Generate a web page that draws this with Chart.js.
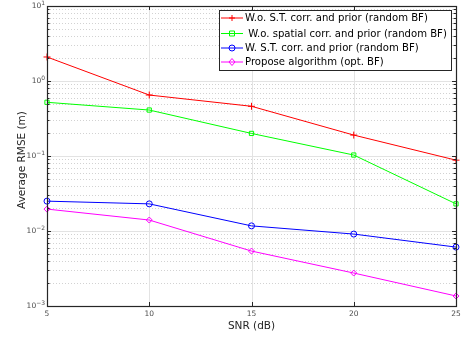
<!DOCTYPE html>
<html><head><meta charset="utf-8">
<script src="https://cdn.jsdelivr.net/npm/chart.js@4/dist/chart.umd.min.js"></script>
<style>html,body{margin:0;padding:0;background:#fff;}#wrap{width:461px;height:339px;}</style>
</head><body><div id="wrap"><canvas id="c" width="461" height="339"></canvas></div>
<script>
const snr = [5, 10, 15, 20, 25];
const rmseWoST = [2.09, 0.65, 0.46, 0.19, 0.088];
const rmseWoSpatial = [0.52, 0.41, 0.20, 0.103, 0.023];
const rmseWST = [0.025, 0.023, 0.0117, 0.0091, 0.0061];
const rmseProposed = [0.0196, 0.014, 0.0054, 0.00275, 0.00136];
const seriesLabels = ['W.o. S.T. corr. and prior (random BF)', ' W.o. spatial corr. and prior (random BF)', 'W. S.T. corr. and prior (random BF)', 'Propose algorithm (opt. BF)'];
const xTicks = [5, 10, 15, 20, 25];
const yTickExponents = [1, 0, -1, -2, -3];
const xTitle = 'SNR (dB)';
const yTitle = 'Average RMSE (m)';

const FONT = '"DejaVu Sans", sans-serif';
const colors = ['#ff0000', '#00ff00', '#0000ff', '#ff00ff'];
const markers = ['cross', 'rect', 'circle', 'rectRot'];

function drawMarker(ctx, type, x, y, color) {
  ctx.save();
  ctx.strokeStyle = color; ctx.lineWidth = 1; ctx.setLineDash([]);
  ctx.beginPath();
  if (type === 'cross') { ctx.moveTo(x-3, y); ctx.lineTo(x+3, y); ctx.moveTo(x, y-3); ctx.lineTo(x, y+3); }
  else if (type === 'rect') { ctx.rect(x-2.5, y-2.5, 5, 5); }
  else if (type === 'circle') { ctx.arc(x, y, 3, 0, Math.PI*2); }
  else { ctx.moveTo(x, y-3.5); ctx.lineTo(x+3, y); ctx.lineTo(x, y+3.5); ctx.lineTo(x-3, y); ctx.closePath(); }
  ctx.stroke();
  ctx.restore();
}

const matlabAxes = {
  id: 'matlabAxes',
  beforeDatasetsDraw(chart) {
    const ctx = chart.ctx, a = chart.chartArea, xs = chart.scales.x, ys = chart.scales.y;
    ctx.save();
    ctx.strokeStyle = '#d2d2d2'; ctx.lineWidth = 1; ctx.setLineDash([1, 2]);
    for (let e = -3; e < 1; e++) {
      for (let m = 2; m <= 9; m++) {
        const y = Math.round(ys.getPixelForValue(m * Math.pow(10, e))) + 0.5;
        ctx.beginPath(); ctx.moveTo(a.left, y); ctx.lineTo(a.right, y); ctx.stroke();
      }
    }
    ctx.setLineDash([]); ctx.strokeStyle = '#e3e3e3';
    yTickExponents.forEach(e => {
      const y = Math.round(ys.getPixelForValue(Math.pow(10, e))) + 0.5;
      ctx.beginPath(); ctx.moveTo(a.left, y); ctx.lineTo(a.right, y); ctx.stroke();
    });
    xTicks.forEach(v => {
      const x = Math.round(xs.getPixelForValue(v)) + 0.5;
      ctx.beginPath(); ctx.moveTo(x, a.top); ctx.lineTo(x, a.bottom); ctx.stroke();
    });
    ctx.restore();
  },
  afterDatasetsDraw(chart) {
    const ctx = chart.ctx, a = chart.chartArea, xs = chart.scales.x, ys = chart.scales.y;
    ctx.save();
    ctx.strokeStyle = '#262626'; ctx.lineWidth = 1.2; ctx.setLineDash([]);
    ctx.strokeRect(a.left + 0.5, a.top + 0.5, a.right - a.left, a.bottom - a.top);
    ctx.lineWidth = 1;
    for (let e = -3; e <= 1; e++) {
      for (let m = 1; m <= 9; m++) {
        if (e === 1 && m > 1) break;
        const y = Math.round(ys.getPixelForValue(m * Math.pow(10, e))) + 0.5;
        const len = m === 1 ? 4 : 2.5;
        ctx.beginPath();
        ctx.moveTo(a.left, y); ctx.lineTo(a.left + len, y);
        ctx.moveTo(a.right, y); ctx.lineTo(a.right - len, y);
        ctx.stroke();
      }
    }
    xTicks.forEach(v => {
      const x = Math.round(xs.getPixelForValue(v)) + 0.5;
      ctx.beginPath();
      ctx.moveTo(x, a.bottom); ctx.lineTo(x, a.bottom - 4);
      ctx.moveTo(x, a.top); ctx.lineTo(x, a.top + 4);
      ctx.stroke();
    });
    ctx.fillStyle = '#4d4d4d';
    ctx.textBaseline = 'middle';
    yTickExponents.forEach(e => {
      const y = ys.getPixelForValue(Math.pow(10, e));
      ctx.font = '6px ' + FONT;
      const expStr = String(e).replace('-', '\u2212');
      const ew = ctx.measureText(expStr).width;
      ctx.textAlign = 'right';
      ctx.fillText(expStr, a.left - 2, y - 3);
      ctx.font = '7.5px ' + FONT;
      ctx.fillText('10', a.left - 2 - ew, y + 0.5);
    });
    ctx.font = '7.5px ' + FONT; ctx.textAlign = 'center'; ctx.textBaseline = 'top';
    xTicks.forEach(v => {
      ctx.fillText(String(v), xs.getPixelForValue(v), a.bottom + 4);
    });
    ctx.fillStyle = '#262626';
    ctx.font = '10.5px ' + FONT;
    ctx.textAlign = 'center'; ctx.textBaseline = 'middle';
    ctx.fillText(xTitle, (a.left + a.right) / 2, 326);
    ctx.save();
    ctx.translate(22, (a.top + a.bottom) / 2 + 4);
    ctx.rotate(-Math.PI / 2);
    ctx.fillText(yTitle, 0, 0);
    ctx.restore();
    const lx = 219.5, ly = 10.5, lw = 232, lh = 60;
    ctx.fillStyle = '#fff'; ctx.fillRect(lx, ly, lw, lh);
    ctx.strokeStyle = '#262626'; ctx.lineWidth = 1; ctx.strokeRect(lx, ly, lw, lh);
    const rows = [18, 33.5, 48, 62];
    ctx.font = '10.1px ' + FONT; ctx.textAlign = 'left'; ctx.textBaseline = 'middle';
    chart.data.datasets.forEach((ds, i) => {
      const y = rows[i];
      ctx.strokeStyle = colors[i]; ctx.lineWidth = 1;
      ctx.beginPath(); ctx.moveTo(221, y); ctx.lineTo(243, y); ctx.stroke();
      drawMarker(ctx, markers[i], 232, y, colors[i]);
      ctx.fillStyle = '#000';
      ctx.fillText(ds.label, 245, y + 0.5);
    });
    ctx.restore();
  }
};

const makeDs = (label, vals, i) => ({
  label, data: snr.map((x, k) => ({x, y: vals[k]})),
  borderColor: colors[i], borderWidth: 1, backgroundColor: colors[i],
  pointStyle: markers[i], pointRadius: i === 0 ? 3.5 : 3, pointBorderWidth: 1,
  pointBackgroundColor: 'rgba(0,0,0,0)', pointBorderColor: colors[i], tension: 0
});

new Chart(document.getElementById('c'), {
  type: 'line',
  data: { datasets: [
    makeDs(seriesLabels[0], rmseWoST, 0),
    makeDs(seriesLabels[1], rmseWoSpatial, 1),
    makeDs(seriesLabels[2], rmseWST, 2),
    makeDs(seriesLabels[3], rmseProposed, 3)
  ]},
  options: {
    responsive: false, animation: false, devicePixelRatio: 1,
    layout: { padding: { left: 47, right: 4, top: 6, bottom: 33 } },
    plugins: { legend: { display: false }, tooltip: { enabled: false } },
    scales: {
      x: { type: 'linear', min: 5, max: 25, display: false },
      y: { type: 'logarithmic', min: 0.001, max: 10, display: false }
    },
    clip: false
  },
  plugins: [matlabAxes]
});
</script>
</body></html>
